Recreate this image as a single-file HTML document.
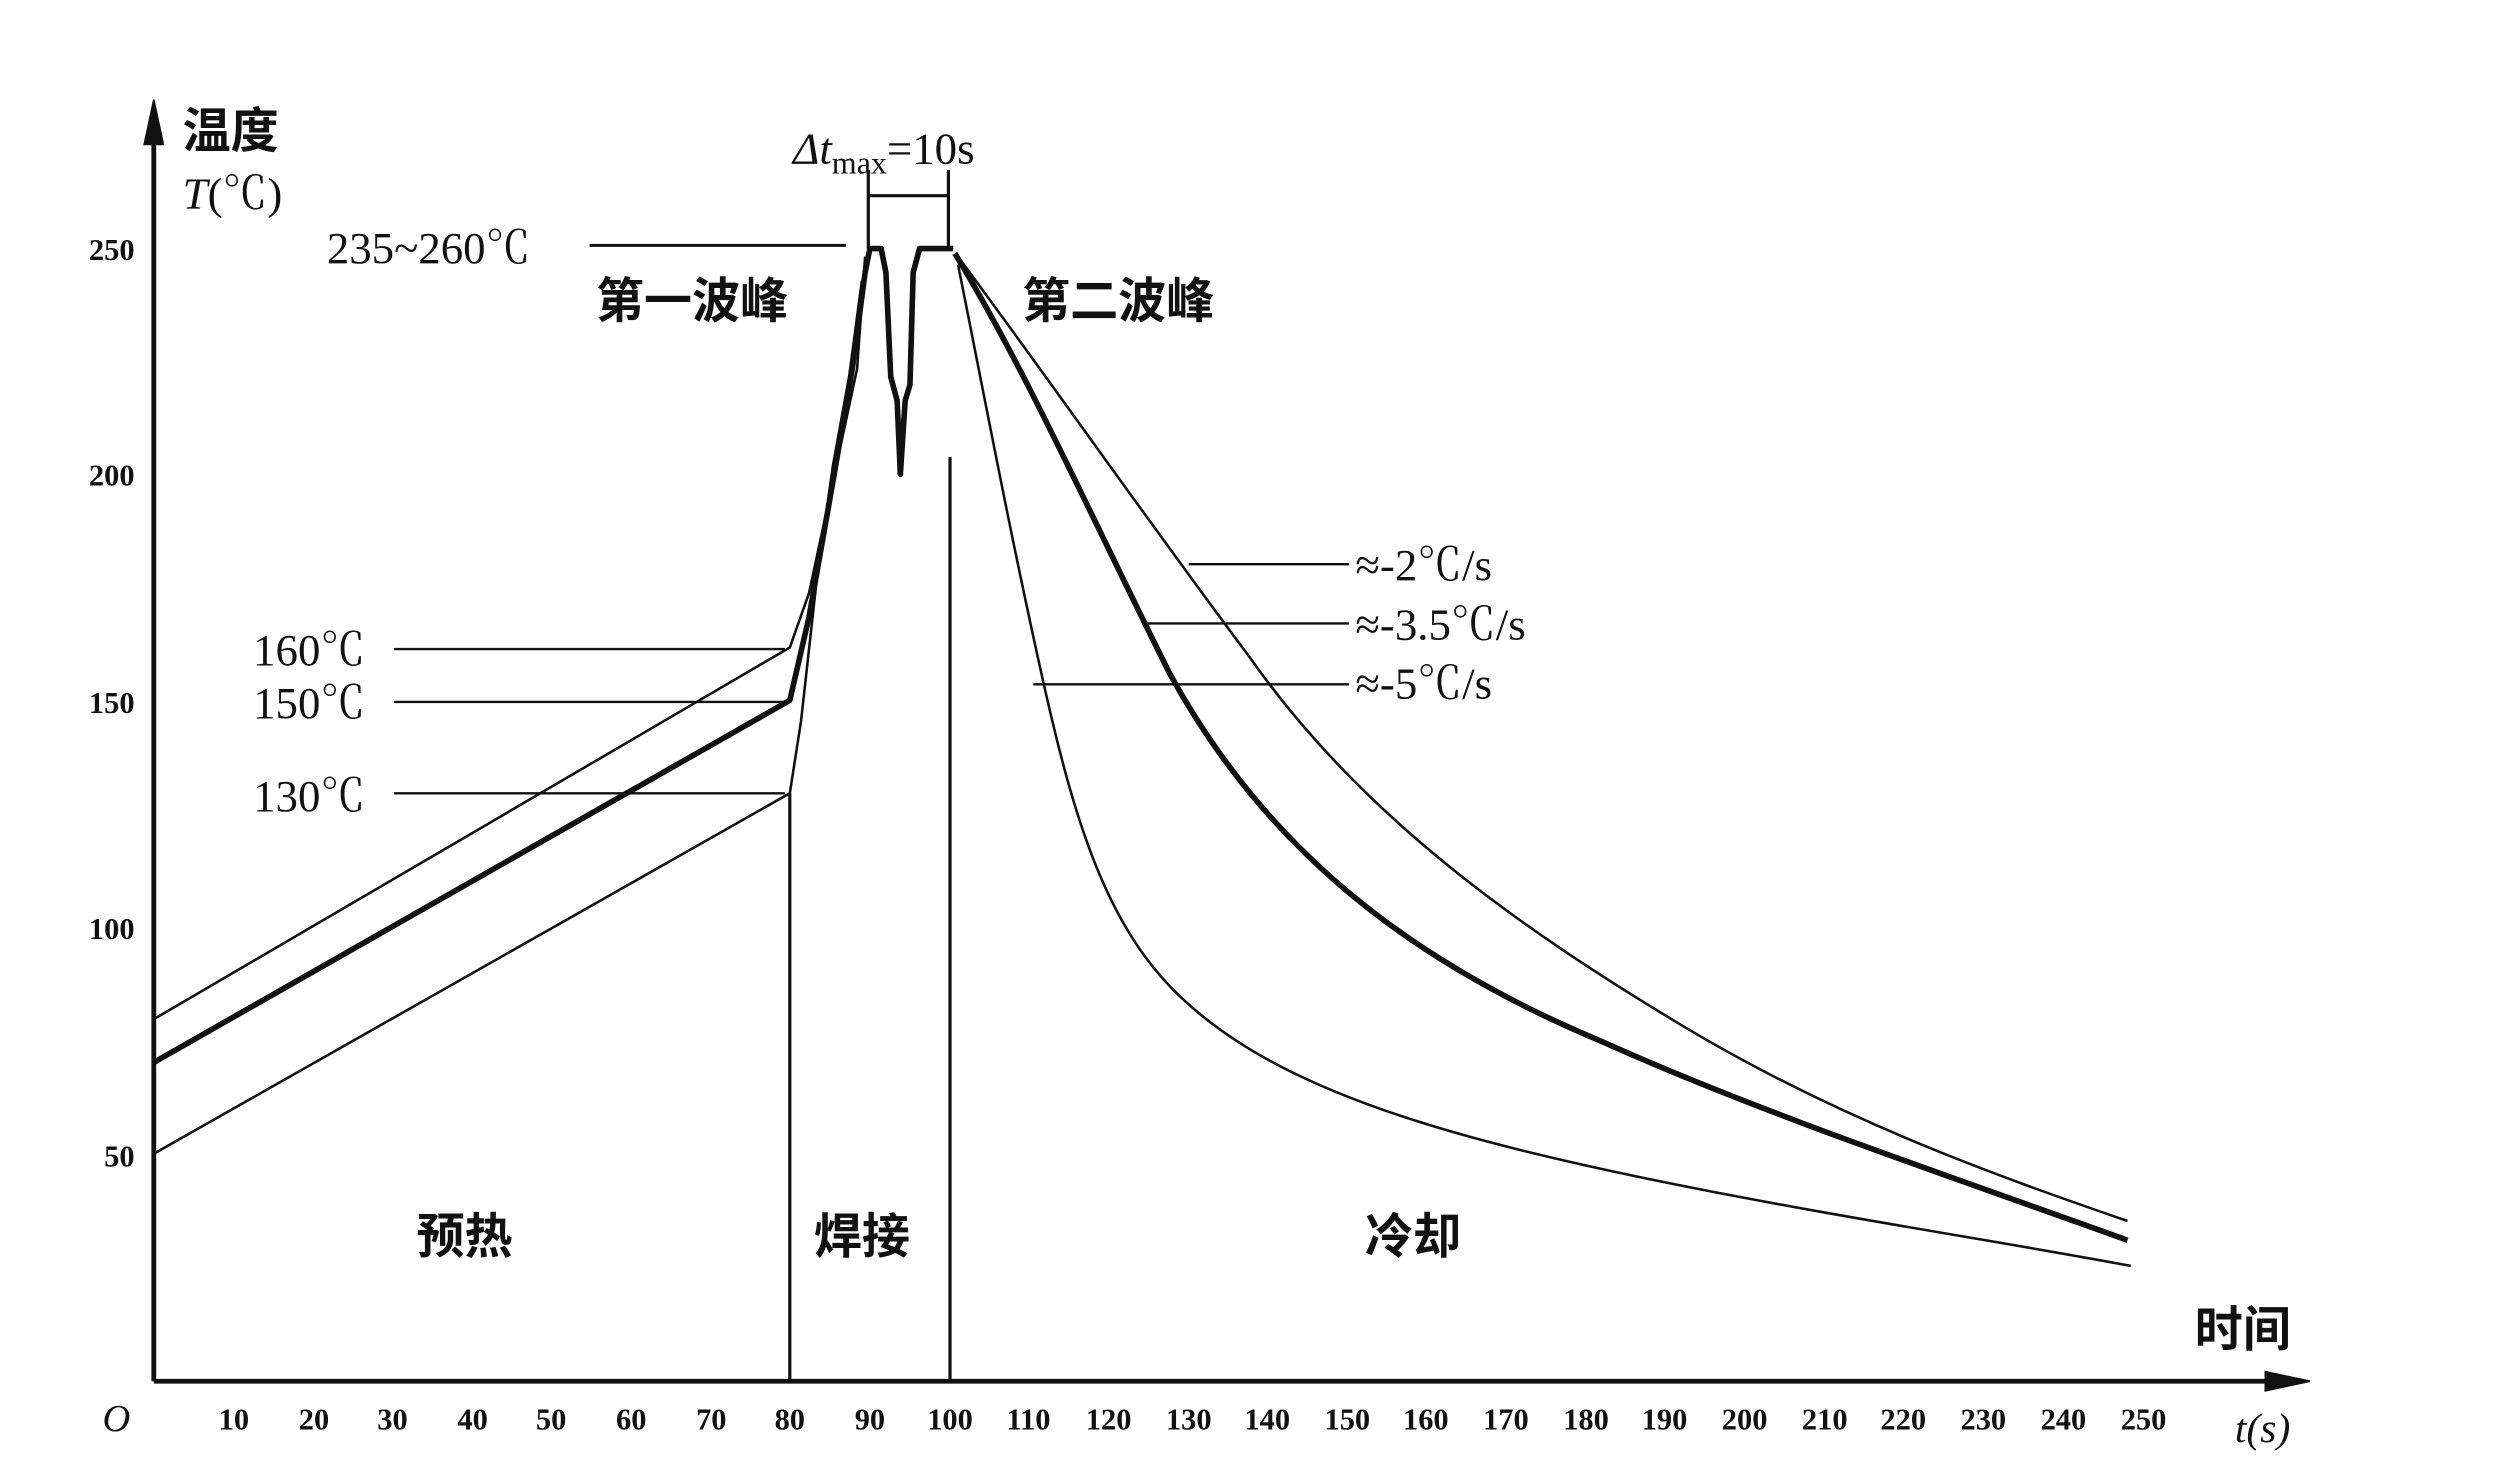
<!DOCTYPE html>
<html><head><meta charset="utf-8"><style>
html,body{margin:0;padding:0;background:#fff;width:2512px;height:1476px;overflow:hidden}
svg{display:block}
text{font-family:"Liberation Serif","Noto Serif CJK SC",serif;fill:#111}
.t{font-size:19px;font-weight:bold}
.l{font-size:28px}
.c{font-family:"Liberation Sans","Noto Sans CJK SC",sans-serif;font-size:30px;font-weight:bold}
</style></head><body>
<svg width="2512" height="1476" viewBox="0 0 1568 921">
<g stroke="#111" fill="none">
<line x1="96" y1="862" x2="96" y2="75" stroke-width="3"/>
<polygon points="96,62 90,90 102,90" fill="#111"/>
<line x1="96" y1="862" x2="1430" y2="862" stroke-width="3"/>
<polygon points="1442,862 1414,856 1414,868" fill="#111"/>
<line x1="493" y1="495" x2="493" y2="862" stroke-width="2"/>
<line x1="593" y1="285" x2="593" y2="862" stroke-width="2"/>
<line x1="542" y1="106" x2="542" y2="155" stroke-width="2"/>
<line x1="592" y1="106" x2="592" y2="155" stroke-width="2"/>
<line x1="542" y1="122" x2="592" y2="122" stroke-width="2"/>
<line x1="368" y1="153" x2="528" y2="153" stroke-width="1.8"/>
<line x1="246" y1="405" x2="490" y2="405" stroke-width="1.5"/>
<line x1="246" y1="438" x2="490" y2="438" stroke-width="1.5"/>
<line x1="246" y1="495" x2="490" y2="495" stroke-width="1.5"/>
<line x1="742" y1="352" x2="842" y2="352" stroke-width="1.5"/>
<line x1="716" y1="389" x2="842" y2="389" stroke-width="1.5"/>
<line x1="645" y1="427" x2="842" y2="427" stroke-width="1.5"/>
<polyline points="96,636 493,404 505,370 520,300 535,230 540,160" stroke-width="1.6"/>
<polyline points="96,663 493,437 505,385 520,300 532,230 540,170 543,155 550,155 553,170 556,235 560,250 562,296 565,250 568,240 570,170 574,155 595,155" stroke-width="3.5" stroke-linejoin="round"/>
<polyline points="96,720 493,495 500,450 510,360 520,290 530,235 538,175" stroke-width="1.6"/>
<path d="M598,160 C650,230 720,330 780,410 C850,510 950,580 1050,640 C1150,700 1250,735 1328,762" stroke-width="1.6"/>
<path d="M596,158 C640,230 680,320 730,420 C790,530 880,600 1000,650 C1100,695 1220,735 1328,774" stroke-width="3.5"/>
<path d="M598,165 C615,250 630,330 650,420 C670,510 690,580 740,625 C800,680 900,710 1050,740 C1150,760 1250,775 1330,790" stroke-width="1.6"/>
</g>
<g class="t" text-anchor="end">
<text x="84" y="162">250</text><text x="84" y="303">200</text>
<text x="84" y="445">150</text><text x="84" y="586">100</text>
<text x="84" y="728">50</text>
</g>
<g class="t" text-anchor="middle">
<text x="146" y="892">10</text><text x="196" y="892">20</text><text x="245" y="892">30</text><text x="295" y="892">40</text><text x="344" y="892">50</text><text x="394" y="892">60</text><text x="444" y="892">70</text><text x="493" y="892">80</text><text x="543" y="892">90</text><text x="593" y="892">100</text><text x="642" y="892">110</text><text x="692" y="892">120</text><text x="742" y="892">130</text><text x="791" y="892">140</text><text x="841" y="892">150</text><text x="890" y="892">160</text><text x="940" y="892">170</text><text x="990" y="892">180</text><text x="1039" y="892">190</text><text x="1089" y="892">200</text><text x="1139" y="892">210</text><text x="1188" y="892">220</text><text x="1238" y="892">230</text><text x="1288" y="892">240</text><text x="1338" y="892">250</text>
</g>
<text x="64" y="893" style="font-size:24px;font-style:italic">O</text>
<text x="1395" y="900" style="font-size:26px;font-style:italic">t(s)</text>
<text x="1370" y="840" class="c">时间</text>
<text x="114" y="92" class="c">温度</text>
<text x="114" y="130" class="l"><tspan font-style="italic">T</tspan>(℃)</text>
<text x="204" y="164" class="l">235~260℃</text>
<text x="158" y="415" class="l">160℃</text>
<text x="158" y="448" class="l">150℃</text>
<text x="158" y="506" class="l">130℃</text>
<text x="495" y="102" class="l"><tspan font-style="italic">Δt</tspan><tspan font-size="20" dy="6">max</tspan><tspan dy="-6">=10s</tspan></text>
<text x="372" y="198" class="c">第一波峰</text>
<text x="638" y="198" class="c">第二波峰</text>
<text x="846" y="362" class="l">≈-2℃/s</text>
<text x="846" y="399" class="l">≈-3.5℃/s</text>
<text x="846" y="436" class="l">≈-5℃/s</text>
<text x="260" y="782" class="c">预热</text>
<text x="508" y="782" class="c">焊接</text>
<text x="852" y="782" class="c">冷却</text>
</svg>
</body></html>
